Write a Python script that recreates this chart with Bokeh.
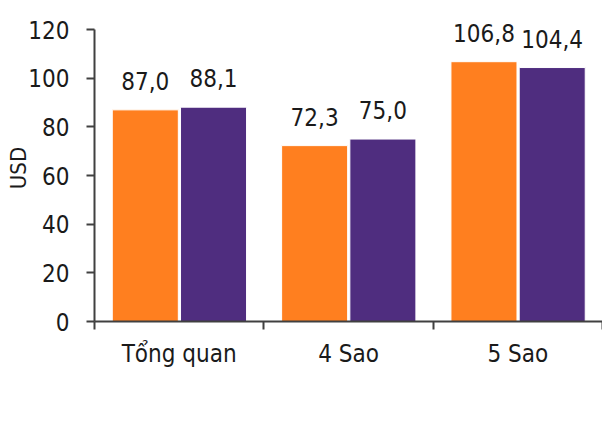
from bokeh.plotting import figure
from bokeh.models import ColumnDataSource, FixedTicker, Range1d, Legend, LegendItem
from bokeh.transform import dodge
from bokeh.core.properties import value
from bokeh.embed import file_html
from bokeh.resources import INLINE

categories = ["Tổng quan", "4 Sao", "5 Sao"]
series_names = ["2015", "2016"]
values_2015 = [87.0, 72.3, 106.8]
values_2016 = [88.1, 75.0, 104.4]
y_ticks = [0, 20, 40, 60, 80, 100, 120]

COL_15 = "#FF7F1F"
COL_16 = "#4F2D7F"
FONT = "DejaVu Sans Condensed"
TXT = "#1a1a1a"
AX = "#404040"

pos = [i + 0.5 for i in range(len(categories))]
bounds = list(range(len(categories) + 1))


def fmt(v):
    return f"{v:.1f}".replace(".", ",")


src = ColumnDataSource(dict(
    x=pos,
    v15=values_2015,
    v16=values_2016,
    l15=[fmt(v) for v in values_2015],
    l16=[fmt(v) for v in values_2016],
))

p = figure(
    width=602, height=427,
    frame_width=508, frame_height=307,
    min_border_left=94, min_border_right=0, min_border_top=14, min_border_bottom=0,
    x_range=Range1d(0, len(categories)), y_range=Range1d(0, 126.2),
    output_backend="svg", toolbar_location=None,
)
p.outline_line_color = None
p.grid.grid_line_color = None
p.background_fill_color = "white"

r15 = p.vbar(x=dodge("x", -0.2, range=p.x_range), top="v15", width=0.39, source=src,
             fill_color=COL_15, line_color="white", line_width=1)
r16 = p.vbar(x=dodge("x", 0.203, range=p.x_range), top="v16", width=0.39, source=src,
             fill_color=COL_16, line_color="white", line_width=1)

for col_x, off, col_t in [("v15", -0.2, "l15"), ("v16", 0.203, "l16")]:
    p.text(x=dodge("x", off, range=p.x_range), y=col_x, text=col_t, source=src,
           text_align="center", text_baseline="alphabetic", y_offset=-29,
           text_font=value(FONT), text_font_size="24px", text_color=TXT)

# x axis
xa = p.xaxis[0]
xa.ticker = FixedTicker(ticks=pos, minor_ticks=bounds)
xa.major_label_overrides = {pos[i]: categories[i] for i in range(len(categories))}
xa.major_tick_out = 0
xa.major_tick_in = 0
xa.minor_tick_out = 8
xa.minor_tick_in = 0
xa.minor_tick_line_color = AX
xa.minor_tick_line_width = 2
xa.axis_line_color = AX
xa.axis_line_width = 2
xa.major_label_text_font = FONT
xa.major_label_text_font_size = "24px"
xa.major_label_text_color = TXT
xa.major_label_standoff = 10
xa.axis_label = "\u00a0"
xa.axis_label_text_font_size = "18px"
xa.axis_label_standoff = 4

# y axis
ya = p.yaxis[0]
ya.ticker = FixedTicker(ticks=y_ticks)
ya.bounds = (0, 120)
ya.minor_tick_line_color = None
ya.major_tick_out = 8
ya.major_tick_in = 0
ya.major_tick_line_color = AX
ya.major_tick_line_width = 2
ya.axis_line_color = AX
ya.axis_line_width = 2
ya.major_label_text_font = FONT
ya.major_label_text_font_size = "24px"
ya.major_label_text_color = TXT
ya.major_label_standoff = 17
ya.axis_label = "USD"
ya.axis_label_text_font = FONT
ya.axis_label_text_font_size = "22px"
ya.axis_label_text_font_style = "normal"
ya.axis_label_text_color = TXT
ya.axis_label_standoff = -6

legend = Legend(
    items=[LegendItem(label=series_names[0], renderers=[r15]),
           LegendItem(label=series_names[1], renderers=[r16])],
    orientation="horizontal", location="top_center",
    border_line_color=None, background_fill_alpha=0,
    glyph_width=10, glyph_height=10, spacing=45, label_standoff=8,
    label_text_font=FONT, label_text_font_size="24px", label_text_color=TXT,
    margin=0, padding=2,
)
p.add_layout(legend, "below")

open("out.html", "w").write(file_html(p, INLINE))
